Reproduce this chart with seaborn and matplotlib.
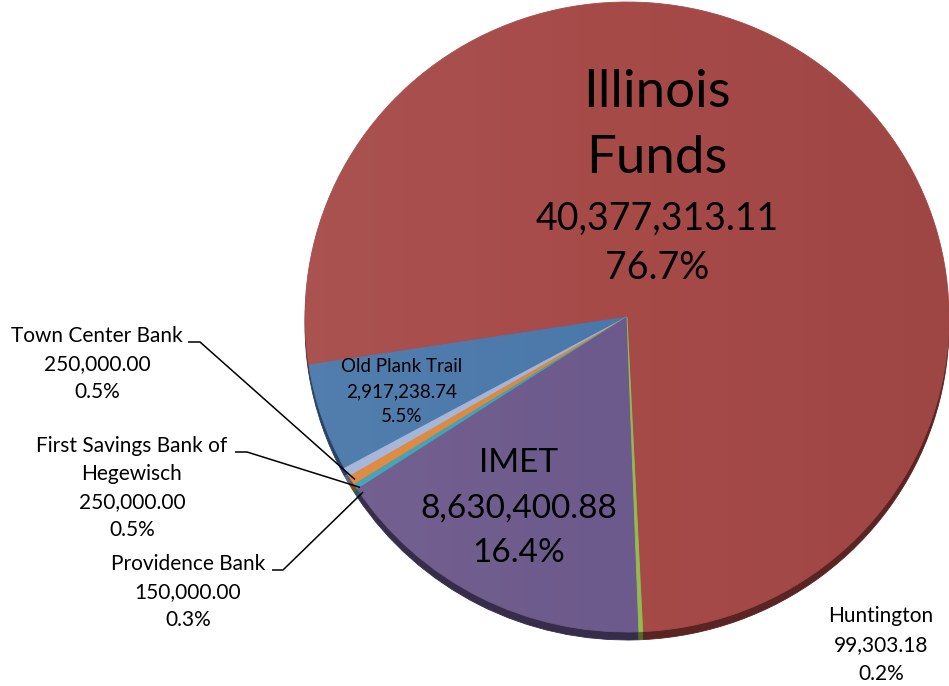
import numpy as np
import matplotlib
matplotlib.use("Agg")
import matplotlib.pyplot as plt
import seaborn as sns
from matplotlib.patches import Ellipse

# investment balances by institution
names = ["Illinois Funds", "Old Plank Trail", "Town Center Bank",
         "First Savings Bank of Hegewisch", "Providence Bank", "IMET", "Huntington"]
display_names = ["Illinois\nFunds", "Old Plank Trail", "Town Center Bank",
                 "First Savings Bank of\nHegewisch", "Providence Bank", "IMET", "Huntington"]
amounts = [40377313.11, 2917238.74, 250000.00, 250000.00, 150000.00, 8630400.88, 99303.18]

top_colors = ["#A64A48", "#4A78AA", "#A3B5D8", "#DE873C", "#3FA2B5", "#6D5A8C", "#93BC50"]
side_colors = ["#5A2423", "#2A4260", "#5A6478", "#7A4A20", "#235A64", "#372D4B", "#506A2A"]

W, H = 949, 686
RX, RY = 322, 315
s = RX / RY

sns.set_theme(style="white")
plt.rcParams["font.family"] = ["Lato", "DejaVu Sans"]


def P(px, py):
    # pixel position (top-left origin) -> data coords
    return px, (H - py) * s


fig = plt.figure(figsize=(W / 100, H / 100), dpi=100)
ax = fig.add_axes([0, 0, 1, 1])

cx, cy = 627, 317
start = 272.8

# side (depth) of the 3D pie
side, _ = ax.pie(amounts, colors=side_colors, startangle=start, counterclock=True,
                 radius=RX, center=P(cx, cy + 8), wedgeprops=dict(linewidth=0.6))
wedges, _ = ax.pie(amounts, colors=top_colors, startangle=start, counterclock=True,
                   radius=RX, center=P(cx, cy), wedgeprops=dict(linewidth=0.6))
for w, c in zip(side, side_colors):
    w.set_edgecolor(c)
for w, c in zip(wedges, top_colors):
    w.set_edgecolor(c)

# soft shading on the top face
face = Ellipse(P(cx, cy), 2 * RX, 2 * RX, transform=ax.transData)
grad = np.linspace(0, 1, 256)[None, :]
shade = np.zeros((1, 256, 4))
shade[..., :3] = np.where(grad[..., None] < 0.5, 1.0, 0.0)
shade[..., 3] = np.abs(grad - 0.5) * 0.10
x0, y0 = P(cx - RX, cy + RY)
x1, y1 = P(cx + RX, cy - RY)
im = ax.imshow(shade, extent=(x0, x1, y0, y1), aspect="auto", zorder=3, interpolation="bilinear")
im.set_clip_path(face)

ax.set_aspect("auto")
ax.set_xlim(0, W)
ax.set_ylim(0, H * s)
ax.axis("off")

total = sum(amounts)
pcts = [a / total * 100 for a in amounts]


def lines_at(x, baselines, texts, sizes):
    for yb, t, fs in zip(baselines, texts, sizes):
        ax.text(*P(x, yb), t, ha="center", va="baseline", fontsize=fs, color="black", zorder=5)


def label_texts(i):
    return display_names[i].split("\n") + [f"{amounts[i]:,.2f}", f"{pcts[i]:.1f}%"]


# Illinois Funds
lines_at(657, [107, 173, 230, 279], label_texts(0), [38, 38, 27, 27])
# Old Plank Trail
lines_at(402, [372, 397, 422], label_texts(1), [13.5] * 3)
# IMET
lines_at(519, [472, 518, 562], label_texts(5), [24] * 3)
# Huntington
lines_at(881, [622, 651, 680], label_texts(6), [15] * 3)

# outside labels with leader lines
outside = {
    2: dict(x=97, base=[342, 370, 398], elbow=(188, 200, 342)),
    3: dict(x=132, base=[452, 480, 508, 536], elbow=(235, 247, 452)),
    4: dict(x=188, base=[570, 598, 626], elbow=(272, 283, 570)),
}
for i, o in outside.items():
    lines_at(o["x"], o["base"], label_texts(i), [15] * len(o["base"]))
    w = wedges[i]
    ang = np.deg2rad(w.theta2 + 1.0)
    ax_x = w.center[0] + 0.99 * w.r * np.cos(ang)
    ax_y = w.center[1] + 0.99 * w.r * np.sin(ang)
    xa, xb, yl = o["elbow"]
    p1 = P(xa, yl)
    p2 = P(xb, yl)
    ax.plot([p1[0], p2[0], ax_x], [p1[1], p2[1], ax_y], color="black", lw=1.1, zorder=6,
            solid_capstyle="butt")

fig.savefig("out.png", dpi=100)
